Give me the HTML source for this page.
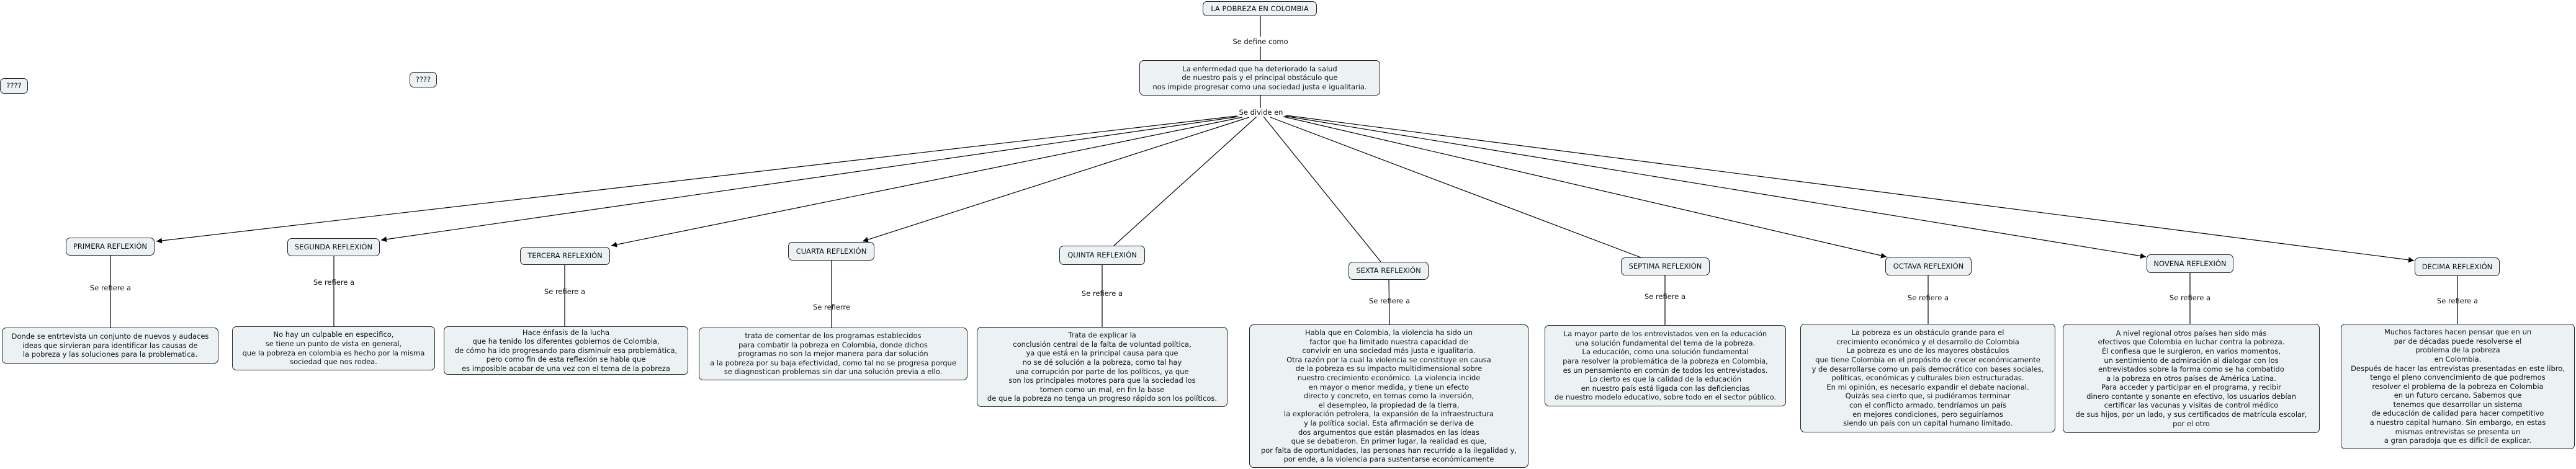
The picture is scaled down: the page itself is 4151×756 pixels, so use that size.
<!DOCTYPE html>
<html><head><meta charset="utf-8">
<style>
html,body{margin:0;padding:0;background:#fff;}
body{width:4151px;height:756px;position:relative;overflow:hidden;font-family:"DejaVu Sans","Liberation Sans",sans-serif;font-size:11.5px;color:#111;}
.b{position:absolute;box-sizing:border-box;border:1.3px solid #222;border-radius:7px;background:#ecf2f4;display:flex;align-items:center;justify-content:center;text-align:center;line-height:14.6px;white-space:nowrap;}
.l{position:absolute;transform:translate(-50%,-50%);white-space:nowrap;font-size:11.5px;}
svg{position:absolute;left:0;top:0;}
</style></head><body>
<svg width="4151" height="756">
<defs><marker id="a" viewBox="0 0 10 10" refX="10" refY="5" markerWidth="9" markerHeight="9" orient="auto-start-reverse" markerUnits="userSpaceOnUse"><path d="M0,0 L10,5 L0,10 z" fill="#000"/></marker></defs>
<g stroke="#000" stroke-width="1.2" fill="none">
<line x1="2031" y1="26" x2="2031" y2="59"/>
<line x1="2031" y1="75" x2="2031" y2="97"/>
<line x1="2031" y1="154" x2="2031" y2="174"/>
<line x1="1993" y1="187" x2="252" y2="389" marker-end="url(#a)"/>
<line x1="1996" y1="188" x2="614" y2="387" marker-end="url(#a)"/>
<line x1="2002" y1="189" x2="985" y2="396" marker-end="url(#a)"/>
<line x1="2013" y1="189" x2="1390" y2="389" marker-end="url(#a)"/>
<line x1="2025" y1="188" x2="1795" y2="396"/>
<line x1="2036" y1="188" x2="2225" y2="422"/>
<line x1="2047" y1="189" x2="2644" y2="415"/>
<line x1="2068" y1="188" x2="3040" y2="414" marker-end="url(#a)"/>
<line x1="2070" y1="187" x2="3458" y2="414" marker-end="url(#a)"/>
<line x1="2072" y1="186" x2="3890" y2="420" marker-end="url(#a)"/>
<line x1="178" y1="412" x2="178" y2="528"/>
<line x1="538" y1="413" x2="538" y2="526"/>
<line x1="910" y1="427" x2="910" y2="526"/>
<line x1="1340" y1="420" x2="1340" y2="528"/>
<line x1="1776" y1="427" x2="1776" y2="527"/>
<line x1="2238" y1="451" x2="2239" y2="523"/>
<line x1="2683" y1="444" x2="2683" y2="524"/>
<line x1="3107" y1="444" x2="3107" y2="522"/>
<line x1="3529" y1="440" x2="3529" y2="522"/>
<line x1="3960" y1="445" x2="3960" y2="522"/>
</g></svg>

<div class="b" style="left:0;top:126px;width:45px;height:25px;">????</div>
<div class="b" style="left:660px;top:116px;width:44px;height:25px;">????</div>

<div class="b" style="left:1938px;top:2px;width:184px;height:24px;">LA POBREZA EN COLOMBIA</div>
<div class="l" style="left:2031px;top:67px;background:#fff;">Se define como</div>
<div class="b" style="left:1836px;top:97px;width:388px;height:57px;">La enfermedad que ha deteriorado la salud<br>de nuestro país y el principal obstáculo que<br>nos impide progresar como una sociedad justa e igualitaria.</div>
<div class="l" style="left:2032px;top:181px;background:#fff;">Se divide en</div>

<div class="b" style="left:106px;top:383px;width:143px;height:29px;">PRIMERA REFLEXIÓN</div>
<div class="b" style="left:463px;top:384px;width:149px;height:29px;">SEGUNDA REFLEXIÓN</div>
<div class="b" style="left:838px;top:398px;width:145px;height:29px;">TERCERA REFLEXIÓN</div>
<div class="b" style="left:1270px;top:390px;width:139px;height:30px;">CUARTA REFLEXIÓN</div>
<div class="b" style="left:1707px;top:396px;width:138px;height:31px;">QUINTA REFLEXIÓN</div>
<div class="b" style="left:2173px;top:422px;width:129px;height:29px;">SEXTA REFLEXIÓN</div>
<div class="b" style="left:2612px;top:415px;width:143px;height:29px;">SEPTIMA REFLEXIÓN</div>
<div class="b" style="left:3038px;top:414px;width:139px;height:30px;">OCTAVA REFLEXIÓN</div>
<div class="b" style="left:3459px;top:410px;width:140px;height:30px;">NOVENA REFLEXIÓN</div>
<div class="b" style="left:3891px;top:415px;width:137px;height:30px;">DECIMA REFLEXIÓN</div>

<div class="l" style="left:178px;top:464px;">Se refiere a</div>
<div class="l" style="left:538px;top:455px;">Se refiere a</div>
<div class="l" style="left:910px;top:470px;">Se refiere a</div>
<div class="l" style="left:1340px;top:495px;">Se refierre</div>
<div class="l" style="left:1776px;top:473px;">Se refiere a</div>
<div class="l" style="left:2239px;top:485px;">Se refiere a</div>
<div class="l" style="left:2683px;top:478px;">Se refiere a</div>
<div class="l" style="left:3107px;top:480px;">Se refiere a</div>
<div class="l" style="left:3529px;top:480px;">Se refiere a</div>
<div class="l" style="left:3960px;top:485px;">Se refiere a</div>

<div class="b" style="left:3px;top:528px;width:349px;height:58px;">Donde se entrtevista un conjunto de nuevos y audaces<br>ideas que sirvieran para identificar las causas de<br>la pobreza y las soluciones para la problematica.</div>
<div class="b" style="left:374px;top:526px;width:327px;height:71px;">No hay un culpable en especifico,<br>se tiene un punto de vista en general,<br>que la pobreza en colombia es hecho por la misma<br>sociedad que nos rodea.</div>
<div class="b" style="left:715px;top:526px;width:394px;height:78px;">Hace énfasis de la lucha<br>que ha tenido los diferentes gobiernos de Colombia,<br>de cómo ha ido progresando para disminuir esa problemática,<br>pero como fin de esta reflexión se habla que<br>es imposible acabar de una vez con el tema de la pobreza</div>
<div class="b" style="left:1126px;top:528px;width:433px;height:85px;">trata de comentar de los programas establecidos<br>para combatir la pobreza en Colombia, donde dichos<br>programas no son la mejor manera para dar solución<br>a la pobreza por su baja efectividad, como tal no se progresa porque<br>se diagnostican problemas sin dar una solución previa a ello.</div>
<div class="b" style="left:1574px;top:527px;width:404px;height:129px;">Trata de explicar la<br>conclusión central de la falta de voluntad política,<br>ya que está en la principal causa para que<br>no se dé solución a la pobreza, como tal hay<br>una corrupción por parte de los políticos, ya que<br>son los principales motores para que la sociedad los<br>tomen como un mal, en fin la base<br>de que la pobreza no tenga un progreso rápido son los políticos.</div>
<div class="b" style="left:2013px;top:523px;width:450px;height:231px;">Habla que en Colombia, la violencia ha sido un<br>factor que ha limitado nuestra capacidad de<br>convivir en una sociedad más justa e igualitaria.<br>Otra razón por la cual la violencia se constituye en causa<br>de la pobreza es su impacto multidimensional sobre<br>nuestro crecimiento económico. La violencia incide<br>en mayor o menor medida, y tiene un efecto<br>directo y concreto, en temas como la inversión,<br>el desempleo, la propiedad de la tierra,<br>la exploración petrolera, la expansión de la infraestructura<br>y la política social. Esta afirmación se deriva de<br>dos argumentos que están plasmados en las ideas<br>que se debatieron. En primer lugar, la realidad es que,<br>por falta de oportunidades, las personas han recurrido a la ilegalidad y,<br>por ende, a la violencia para sustentarse económicamente</div>
<div class="b" style="left:2489px;top:524px;width:389px;height:131px;">La mayor parte de los entrevistados ven en la educación<br>una solución fundamental del tema de la pobreza.<br>La educación, como una solución fundamental<br>para resolver la problemática de la pobreza en Colombia,<br>es un pensamiento en común de todos los entrevistados.<br>Lo cierto es que la calidad de la educación<br>en nuestro país está ligada con las deficiencias<br>de nuestro modelo educativo, sobre todo en el sector público.</div>
<div class="b" style="left:2901px;top:522px;width:411px;height:175px;">La pobreza es un obstáculo grande para el<br>crecimiento económico y el desarrollo de Colombia<br>La pobreza es uno de los mayores obstáculos<br>que tiene Colombia en el propósito de crecer económicamente<br>y de desarrollarse como un país democrático con bases sociales,<br>políticas, económicas y culturales bien estructuradas.<br>En mi opinión, es necesario expandir el debate nacional.<br>Quizás sea cierto que, si pudiéramos terminar<br>con el conflicto armado, tendríamos un país<br>en mejores condiciones, pero seguiríamos<br>siendo un país con un capital humano limitado.</div>
<div class="b" style="left:3324px;top:522px;width:414px;height:176px;">A nivel regional otros países han sido más<br>efectivos que Colombia en luchar contra la pobreza.<br>Él confiesa que le surgieron, en varios momentos,<br>un sentimiento de admiración al dialogar con los<br>entrevistados sobre la forma como se ha combatido<br>a la pobreza en otros países de América Latina.<br>Para acceder y participar en el programa, y recibir<br>dinero contante y sonante en efectivo, los usuarios debían<br>certificar las vacunas y visitas de control médico<br>de sus hijos, por un lado, y sus certificados de matrícula escolar,<br>por el otro</div>
<div class="b" style="left:3772px;top:522px;width:377px;height:202px;">Muchos factores hacen pensar que en un<br>par de décadas puede resolverse el<br>problema de la pobreza<br>en Colombia.<br>Después de hacer las entrevistas presentadas en este libro,<br>tengo el pleno convencimiento de que podremos<br>resolver el problema de la pobreza en Colombia<br>en un futuro cercano. Sabemos que<br>tenemos que desarrollar un sistema<br>de educación de calidad para hacer competitivo<br>a nuestro capital humano. Sin embargo, en estas<br>mismas entrevistas se presenta un<br>a gran paradoja que es difícil de explicar.</div>
</body></html>
